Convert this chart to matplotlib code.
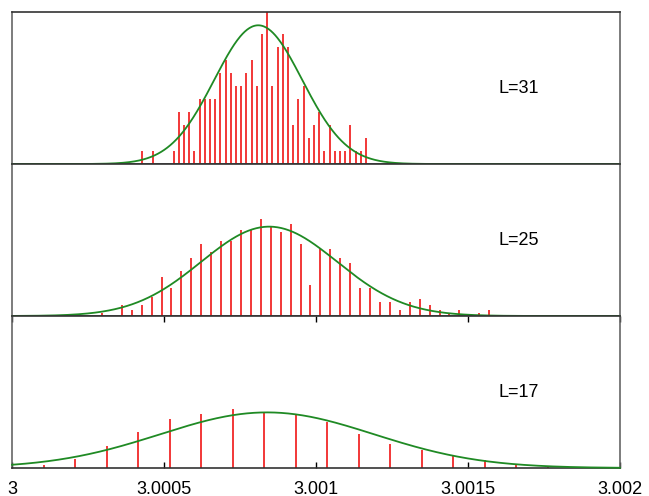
import numpy as np
import matplotlib
matplotlib.use("Agg")
import matplotlib.pyplot as plt

plt.rcParams['font.family'] = ['Liberation Sans', 'DejaVu Sans']

# L=31 histogram (counts per bin)
l31_start = 3.0004286
l31_width = 0.00001711
l31_counts = [1, 0, 1, 0, 0, 0, 1, 4, 3, 4, 1, 5, 5, 5, 5, 7, 8, 7, 6, 6, 7, 8,
              6, 10, 12, 6, 9, 10, 9, 3, 5, 6, 2, 3, 4, 1, 3, 1, 1, 1, 3, 1, 1, 2]
l31_fit = (3.00081, 0.0001447, 10.64)   # mean, sigma, amplitude
l31_ymax = 11.66

# L=25 histogram
l25_start = 3.000296
l25_width = 0.00003266
l25_counts = [1, 0, 4, 2, 4, 7, 14, 10, 16, 21, 26, 23, 27, 27, 31, 31, 35, 32,
              30, 33, 26, 11, 24, 24, 21, 19, 10, 10, 5, 5, 2, 5, 6, 4, 2, 1, 2,
              0, 1, 2]
l25_fit = (3.000846, 0.0002237, 32.1)
l25_ymax = 54.6

# L=17 histogram
l17_start = 3.0001053
l17_width = 0.00010355
l17_counts = [2.6, 9, 21.6, 36.3, 49, 54.3, 59, 55, 54.3, 45.6, 34.3, 24, 18.3,
              12.3, 7.6, 3.3, 2.3, 1.3, 0.7]
l17_fit = (3.000839, 0.000352, 55.6)
l17_ymax = 152

labels = ["L=31", "L=25", "L=17"]
xticks = [3, 3.0005, 3.001, 3.0015, 3.002]
xticklabels = ["3", "3.0005", "3.001", "3.0015", "3.002"]

panels = [
    (l31_start, l31_width, l31_counts, l31_fit, l31_ymax),
    (l25_start, l25_width, l25_counts, l25_fit, l25_ymax),
    (l17_start, l17_width, l17_counts, l17_fit, l17_ymax),
]

fig = plt.figure(figsize=(6.49, 4.96), dpi=100)
W, H = 649.0, 496.0
left, right = 12 / W, 620 / W
bottoms = [332, 180, 28]
ph = 152

xs = np.linspace(3.0, 3.002, 800)
for i, (start, width, counts, fit, ymax) in enumerate(panels):
    ax = fig.add_axes([left, bottoms[i] / H, right - left, ph / H])
    centers = start + width * np.arange(len(counts))
    ax.vlines(centers, 0, counts, color="#f01515", lw=1.2, zorder=2)
    mu, sig, amp = fit
    ax.plot(xs, amp * np.exp(-(xs - mu) ** 2 / (2 * sig ** 2)),
            color="#1f8a24", lw=1.3, zorder=4, clip_on=False)
    ax.set_xlim(3.0, 3.002)
    ax.set_ylim(0, ymax)
    ax.set_yticks([])
    for s in ax.spines.values():
        s.set_color("#333333")
        s.set_linewidth(1.2)
    ax.spines["left"].set_color("#666666")
    ax.spines["right"].set_color("#666666")
    ax.text(0.834, 0.495, labels[i], transform=ax.transAxes,
            ha="center", va="center", fontsize=13)
    if i < 2:
        ax.set_xticks([])
    else:
        ax.set_xticks(xticks)
        ax.set_xticklabels(xticklabels)
        ax.tick_params(axis="x", direction="in", top=True, length=4,
                       width=1, labelsize=13, pad=9)

fig.savefig("out.png", dpi=100)
